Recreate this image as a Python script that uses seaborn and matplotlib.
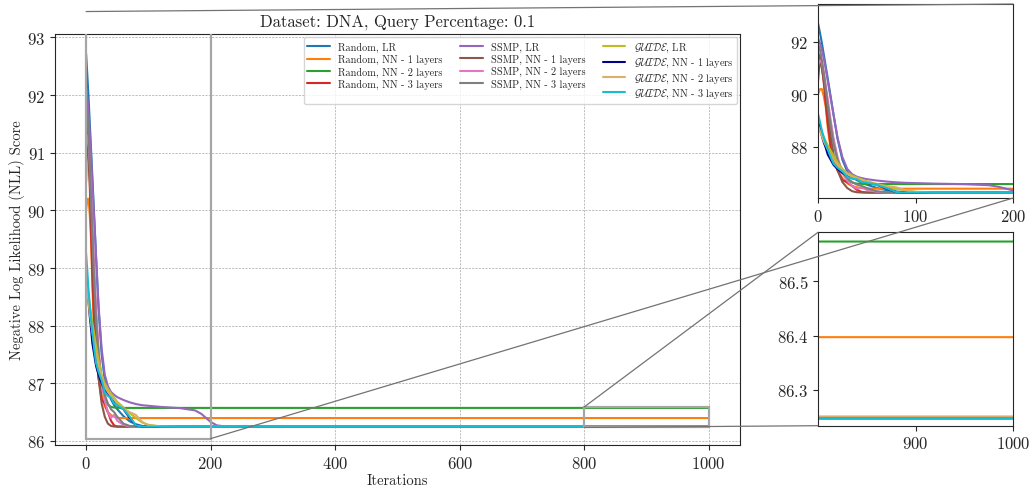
import numpy as np
import pandas as pd
import matplotlib
matplotlib.use("Agg")
import matplotlib.pyplot as plt
from matplotlib.patches import Rectangle, ConnectionPatch
import seaborn as sns

# Iterations sampled (the curves are flat after ~250)
iteracoes = [0, 2, 4, 6, 8, 10, 13, 16, 20, 25, 30, 35, 40, 45, 50, 60, 70, 80, 90, 100,
             120, 150, 175, 185, 200, 210, 225, 250, 1000]

metodos = ["Random, LR", "Random, NN - 1 layers", "Random, NN - 2 layers", "Random, NN - 3 layers",
           "SSMP, LR", "SSMP, NN - 1 layers", "SSMP, NN - 2 layers", "SSMP, NN - 3 layers",
           r"$\mathcal{GUIDE}$, LR", r"$\mathcal{GUIDE}$, NN - 1 layers",
           r"$\mathcal{GUIDE}$, NN - 2 layers", r"$\mathcal{GUIDE}$, NN - 3 layers"]

cores = ["#1f77b4", "#ff7f0e", "#2ca02c", "#d62728", "#9467bd", "#8c564b", "#e377c2", "#7f7f7f",
         "#bcbd22", "#00008b", "#dcae68", "#17becf"]

random_lr = [92.72, 92.35, 91.95, 91.5, 91.05, 90.6, 89.9, 89.2, 88.3, 87.5, 87.05, 86.85, 86.72, 86.62,
             86.55, 86.43, 86.34, 86.29, 86.26, 86.25, 86.248, 86.248, 86.248, 86.248, 86.248, 86.248,
             86.248, 86.248, 86.248]
random_nn1 = [90.0, 90.2, 90.2, 89.9, 89.5, 88.7, 87.9, 87.5, 87.1, 86.8, 86.6, 86.5, 86.45, 86.42,
              86.40, 86.397, 86.397, 86.397, 86.397, 86.397, 86.397, 86.397, 86.397, 86.397, 86.397,
              86.397, 86.397, 86.397, 86.397]
random_nn2 = [91.45, 91.3, 91.0, 90.6, 90.1, 89.6, 88.9, 88.2, 87.5, 87.0, 86.75, 86.63, 86.59, 86.58,
              86.575, 86.573, 86.573, 86.573, 86.573, 86.573, 86.573, 86.573, 86.573, 86.573, 86.573,
              86.573, 86.573, 86.573, 86.573]
random_nn3 = [90.5, 91.45, 91.1, 90.4, 89.6, 88.9, 88.0, 87.5, 87.1, 86.72, 86.65, 86.5, 86.35, 86.27,
              86.25, 86.248, 86.248, 86.248, 86.248, 86.248, 86.248, 86.248, 86.248, 86.248, 86.248,
              86.248, 86.248, 86.248, 86.248]
ssmp_lr = [92.15, 91.95, 91.7, 91.35, 90.95, 90.5, 89.85, 89.2, 88.35, 87.6, 87.15, 86.95, 86.85, 86.8,
           86.76, 86.71, 86.67, 86.64, 86.62, 86.61, 86.59, 86.57, 86.53, 86.47, 86.33, 86.27, 86.25,
           86.248, 86.248]
ssmp_nn1 = [91.6, 91.4, 91.0, 90.5, 89.9, 89.3, 88.4, 87.7, 87.1, 86.65, 86.42, 86.3, 86.26, 86.25,
            86.248, 86.248, 86.248, 86.248, 86.248, 86.248, 86.248, 86.248, 86.248, 86.248, 86.248,
            86.248, 86.248, 86.248, 86.248]
ssmp_nn2 = [91.1, 91.3, 91.2, 90.8, 90.3, 89.8, 89.0, 88.3, 87.6, 87.0, 86.7, 86.5, 86.4, 86.45, 86.35,
            86.28, 86.25, 86.248, 86.248, 86.248, 86.248, 86.248, 86.248, 86.248, 86.248, 86.248,
            86.248, 86.248, 86.248]
ssmp_nn3 = [91.9, 91.7, 91.3, 90.8, 90.2, 89.6, 88.8, 88.1, 87.5, 87.05, 86.8, 86.65, 86.55, 86.5,
            86.42, 86.3, 86.26, 86.25, 86.248, 86.248, 86.248, 86.248, 86.248, 86.248, 86.248, 86.248,
            86.248, 86.248, 86.248]
guide_lr = [88.9, 88.75, 88.55, 88.35, 88.2, 88.05, 87.85, 87.65, 87.4, 87.15, 87.0, 86.9, 86.82, 86.75,
            86.68, 86.58, 86.48, 86.4, 86.32, 86.28, 86.25, 86.248, 86.248, 86.248, 86.248, 86.248,
            86.248, 86.248, 86.248]
guide_nn1 = [88.95, 88.7, 88.4, 88.15, 87.95, 87.7, 87.5, 87.3, 87.15, 87.0, 86.88, 86.8, 86.75, 86.68,
             86.62, 86.55, 86.4, 86.27, 86.25, 86.248, 86.248, 86.248, 86.248, 86.248, 86.248, 86.248,
             86.248, 86.248, 86.248]
guide_nn2 = [88.8, 88.6, 88.4, 88.2, 88.05, 87.9, 87.7, 87.5, 87.3, 87.1, 86.95, 86.85, 86.78, 86.72,
             86.65, 86.55, 86.5, 86.45, 86.33, 86.27, 86.255, 86.251, 86.251, 86.251, 86.251, 86.251,
             86.251, 86.251, 86.251]
guide_nn3 = [89.25, 88.95, 88.6, 88.35, 88.1, 87.9, 87.6, 87.35, 87.2, 87.05, 86.85, 86.78, 86.75,
             86.65, 86.62, 86.55, 86.42, 86.27, 86.25, 86.248, 86.248, 86.248, 86.248, 86.248, 86.248,
             86.248, 86.248, 86.248, 86.248]

series = [random_lr, random_nn1, random_nn2, random_nn3, ssmp_lr, ssmp_nn1, ssmp_nn2, ssmp_nn3,
          guide_lr, guide_nn1, guide_nn2, guide_nn3]

# long format for seaborn
linhas = []
for nome, valores in zip(metodos, series):
    for it, v in zip(iteracoes, valores):
        linhas.append({"Iterations": it, "NLL": v, "Method": nome})
df = pd.DataFrame(linhas)
paleta = dict(zip(metodos, cores))

sns.set_style("ticks")
plt.rcParams["font.family"] = ["cmr10", "DejaVu Serif"]
plt.rcParams["mathtext.fontset"] = "cm"
plt.rcParams["axes.formatter.use_mathtext"] = True
plt.rcParams["axes.unicode_minus"] = False

fig = plt.figure(figsize=(10.33, 4.89), dpi=100)
ax = fig.add_axes([0.0532, 0.088, 0.6631, 0.8404])
ax_top = fig.add_axes([0.7919, 0.593, 0.1888, 0.3967])
ax_bot = fig.add_axes([0.7919, 0.1274, 0.1888, 0.3955])

for a, leg in [(ax, True), (ax_top, False), (ax_bot, False)]:
    sns.lineplot(data=df, x="Iterations", y="NLL", hue="Method", hue_order=metodos, palette=paleta,
                 estimator=None, linewidth=1.5, ax=a, legend=leg)

ax.set_xlim(-50, 1050)
ax.set_ylim(85.93, 93.06)
ax.set_xticks([0, 200, 400, 600, 800, 1000])
ax.set_yticks([86, 87, 88, 89, 90, 91, 92, 93])
ax.grid(True, linestyle=(0, (2.5, 1.5)), color="0.7", linewidth=0.6)
ax.set_xlabel("Iterations", fontsize=10.5, labelpad=2)
ax.set_ylabel("Negative Log Likelihood (NLL) Score", fontsize=10.5, labelpad=1)
ax.set_title("Dataset: DNA, Query Percentage: 0.1", fontsize=12)
ax.tick_params(labelsize=12)

sns.move_legend(ax, "upper right", ncol=3, title=None, fontsize=7.4, labelspacing=0.2,
                handlelength=2.2, columnspacing=1.7, borderaxespad=0.3, borderpad=0.35,
                frameon=True)

# zoom windows
zoom_top = (0, 200, 86.04, 93.45)
zoom_bot = (800, 1000, 86.234, 86.59)

ax_top.set_xlim(zoom_top[0], zoom_top[1])
ax_top.set_ylim(zoom_top[2], zoom_top[3])
ax_top.set_xticks([0, 100, 200])
ax_top.set_yticks([88, 90, 92])
ax_bot.set_xlim(zoom_bot[0], zoom_bot[1])
ax_bot.set_ylim(zoom_bot[2], zoom_bot[3])
ax_bot.set_xticks([900, 1000])
ax_bot.set_yticks([86.3, 86.4, 86.5])
for a in [ax_top, ax_bot]:
    a.set_xlabel("")
    a.set_ylabel("")
    a.tick_params(labelsize=12)

# (inset corner, rectangle corner) pairs for the connector lines
ligacoes = [(zoom_top, ax_top, [((1, 1), (0, 1)), ((1, 0), (1, 0))]),
            (zoom_bot, ax_bot, [((0, 1), (0, 1)), ((0, 0), (0, 0))])]
for z, a, pares in ligacoes:
    ret = Rectangle((z[0], z[2]), z[1] - z[0], z[3] - z[2], fill=False, edgecolor="0.65",
                    linewidth=1.6, zorder=4)
    ax.add_patch(ret)
    for (ix, iy), (rx, ry) in pares:
        xb = z[0] + rx * (z[1] - z[0])
        yb = z[2] + ry * (z[3] - z[2])
        con = ConnectionPatch(xyA=(ix, iy), coordsA=a.transAxes, xyB=(xb, yb), coordsB=ax.transData,
                              color="0.45", linewidth=0.9)
        fig.add_artist(con)

fig.savefig("out.png", dpi=100)
